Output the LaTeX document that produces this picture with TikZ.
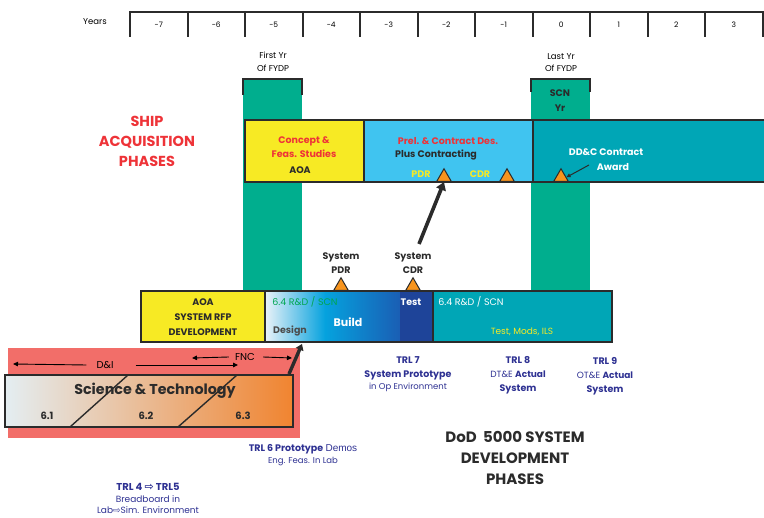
\documentclass[tikz,border=0pt]{standalone}
\usepackage{fontspec}
\setmainfont{Poppins}
\newfontfamily\symfont{DejaVu Sans}
\usetikzlibrary{positioning,arrows.meta,shapes.geometric}
\definecolor{fydpgreen}{HTML}{00AE8E}
\definecolor{phaseteal}{HTML}{00A6B6}
\definecolor{phaseblue}{HTML}{40C4F0}
\definecolor{phaseyellow}{HTML}{F7EA24}
\definecolor{phasered}{HTML}{EE3338}
\definecolor{milestone}{HTML}{F7941D}
\definecolor{stred}{HTML}{F26E69}
\definecolor{trlblue}{HTML}{2E3192}
\definecolor{rdgreen}{HTML}{00A651}
\definecolor{frame}{HTML}{2B2B2B}
\definecolor{buildlight}{HTML}{EAF2F8}
\definecolor{buildmid}{HTML}{05A2DE}
\definecolor{builddark}{HTML}{1A5EB4}
\definecolor{testnavy}{HTML}{1E4499}
\definecolor{stlight}{HTML}{E4EEF2}
\definecolor{stmid}{HTML}{EFBA92}
\definecolor{storange}{HTML}{F08430}
\begin{document}
\begin{tikzpicture}[x=1pt,y=-1pt,
    yrlab/.style={font=\fontsize{8.5}{9}\selectfont, inner sep=0pt},
    cell/.style={draw=frame, line width=1.6pt, inner sep=0pt, outer sep=0pt},
    txt/.style={font=\fontsize{9.5}{10}\selectfont\bfseries, inner sep=0pt, align=center},
    plain/.style={font=\fontsize{9.5}{10}\selectfont, inner sep=0pt, align=center},
    trl/.style={font=\fontsize{8.5}{9}\selectfont, text=trlblue, inner sep=0pt, align=center},
    mile/.style={regular polygon, regular polygon sides=3, draw=frame, line width=1pt,
                 fill=milestone, minimum size=17pt, inner sep=0pt, anchor=south},
    bigarrow/.style={-{Triangle[length=8pt,width=10pt]}, line width=3.6pt, frame},
    span/.style={-{Triangle[length=5pt,width=4.5pt]}, line width=0.9pt, black},
  ]
  \useasboundingbox (0,0) rectangle (764,518);

  % year scale
  \node[yrlab] (years) at (95,22) {Years};
  \draw[frame, line width=2pt] (130,12) -- (762.5,12);
  \foreach \yr [count=\i from 0] in {-7,-6,-5,-4,-3,-2,-1,0,1,2,3} {
    \draw[frame, line width=2pt] ({130+57.5*\i},11) -- ++(0,26);
    \node[yrlab, font=\fontsize{7.5}{8}\selectfont] (yr\i) at ({158.75+57.5*\i},25) {\yr};
  }
  \draw[frame, line width=2pt] (762.5,11) -- ++(0,26);

  % FYDP columns
  \fill[fydpgreen] (243,80) rectangle (302,291);
  \fill[fydpgreen] (531,80) rectangle (590,291);
  \draw[frame, line width=1.2pt] (243,95) -- (243,79) -- (302,79) -- (302,95);
  \draw[frame, line width=1.2pt] (531,92) -- (531,79) -- (590,79) -- (590,92);
  \node[yrlab, align=center] (first) at (273,62) {First Yr\\[4pt]Of FYDP};
  \node[yrlab, align=center] (last) at (561,63) {Last Yr\\[3pt]Of FYDP};
  \node[txt, text=frame] (scn) at (560,101) {SCN\\[5pt]Yr};

  % ship acquisition phases
  \node[txt, text=phasered, font=\fontsize{14.5}{20}\selectfont\bfseries] (ship) at (147,141) {SHIP\\ACQUISITION\\PHASES};
  \node[cell, fill=phaseyellow, minimum width=119pt, minimum height=62pt, anchor=north west] (cfs) at (245,120) {};
  \node[cell, fill=phaseblue, minimum width=169pt, minimum height=62pt, right=0pt of cfs] (pcd) {};
  \node[cell, fill=phaseteal, minimum width=232pt, minimum height=62pt, right=0pt of pcd] (ddc) {};
  \node[txt, text=phasered, align=center] (cfstxt) at (304,147) {Concept \&\\[3pt]Feas. Studies};
  \node[txt, text=frame] (aoa) at (300,170) {AOA};
  \node[txt, text=phasered] (pcdtxt) at (448,141) {Prel. \& Contract Des.};
  \node[txt, text=frame] (plus) at (436,155) {Plus Contracting};
  \node[txt, text=phaseyellow] (pdrtxt) at (421,174) {PDR};
  \node[txt, text=phaseyellow] (cdrtxt) at (480,174) {CDR};
  \node[mile] (pdr) at (444,182) {};
  \node[mile] (cdr) at (507,182) {};
  \node[mile] (award) at (561,182) {};
  \node[txt, text=white, align=center] (ddctxt) at (606,152) {DD\&C Contract};
  \node[txt, text=white] (awardtxt) at (613,167) {Award};
  \draw[-{Triangle[length=4pt,width=4pt]}, line width=1pt, frame] (589,165) -- (award.east);

  \coordinate (tail) at (419,244);
  \draw[bigarrow] (tail) -- (pdr.south);

  % DoD 5000 phases
  \node[txt, text=frame] (spdr) at (341,263) {System\\[4pt]PDR};
  \node[txt, text=frame] (scdr) at (413,263) {System\\[4pt]CDR};
  \node[mile] (sysp) at (341,291) {};
  \node[mile] (sysc) at (413,291) {};

  \node[cell, fill=phaseyellow, minimum width=124pt, minimum height=51pt, anchor=north west] (rfp) at (141,291) {};
  \shade[left color=buildlight, right color=buildmid] (265,291) rectangle (325,342);
  \shade[left color=buildmid, right color=builddark] (325,291) rectangle (400,342);
  \fill[testnavy] (400,291) rectangle (433,342);
  \node[cell, minimum width=168pt, minimum height=51pt, right=0pt of rfp] (dbt) {};
  \node[cell, fill=phaseteal, minimum width=179pt, minimum height=51pt, right=0pt of dbt] (tmi) {};
  \node[txt, text=frame, font=\fontsize{9.5}{10}\selectfont\bfseries] (rfptxt) at (203,317) {AOA\\[5pt]SYSTEM RFP\\[5pt]DEVELOPMENT};
  \node[plain, text=rdgreen] (rd1) at (305,302) {6.4 R\&D / SCN};
  \node[txt, text=white] (test) at (411,302) {Test};
  \node[txt, text=white, font=\fontsize{11}{12}\selectfont\bfseries] (build) at (348,322) {Build};
  \node[txt, text=frame!85] (design) at (290,331) {Design};
  \node[plain, text=white] (rd2) at (471,302) {6.4 R\&D / SCN};
  \node[plain, text=phaseyellow, font=\fontsize{9}{10}\selectfont] (mods) at (522,332) {Test, Mods, ILS};

  % science and technology
  \fill[stred] (8,348) rectangle (300,438);
  \shade[left color=stlight, middle color=stmid, right color=storange] (5,375) rectangle (293,427);
  \node[cell, minimum width=288pt, minimum height=52pt, anchor=north west] (snt) at (5,375) {};
  \draw[frame, line width=1.4pt] (70,427) -- (128,375);
  \draw[frame, line width=1.4pt] (178,427) -- (237,375);
  \node[txt, text=frame, font=\fontsize{14.3}{15}\selectfont\bfseries] (snttxt) at (155,391) {Science \& Technology};
  \node[txt, text=frame, font=\fontsize{10}{11}\selectfont\bfseries] (s61) at (47,416) {6.1};
  \node[txt, text=frame, font=\fontsize{10}{11}\selectfont\bfseries] (s62) at (146,416) {6.2};
  \node[txt, text=frame, font=\fontsize{10}{11}\selectfont\bfseries] (s63) at (243,416) {6.3};

  \node[plain, font=\fontsize{10}{11}\selectfont] (di) at (105,365) {D\&I};
  \coordinate (dil) at (13,364);
  \coordinate (dir) at (238,365);
  \draw[span] (di.west) ++(-10,0) -- (dil);
  \draw[span] (di.east) ++(22,0) -- (dir);
  \node[plain, font=\fontsize{10}{11}\selectfont] (fnc) at (245,357) {FNC};
  \coordinate (fncl) at (192,358);
  \coordinate (fncr) at (292,358);
  \draw[span] (fnc.west) ++(-6,0) -- (fncl);
  \draw[span] (fnc.east) ++(8,0) -- (fncr);

  \coordinate (sttail) at (289,374);
  \coordinate (sthead) at (302,344);
  \draw[-{Triangle[length=6pt,width=8pt]}, line width=3.4pt, frame] (sttail) -- (sthead);

  % technology readiness levels
  \node[trl] (trl7) at (408,374) {{\bfseries\fontsize{9.5}{10}\selectfont TRL 7}\\[5pt]{\bfseries\fontsize{9.5}{10}\selectfont System Prototype}\\[3pt]in Op Environment};
  \node[trl] (trl8) at (518,375) {{\bfseries\fontsize{9.5}{10}\selectfont TRL 8}\\[5pt]{\fontsize{9}{10}\selectfont DT\&E \bfseries Actual}\\[5pt]{\bfseries\fontsize{9.5}{10}\selectfont System}};
  \node[trl] (trl9) at (605,376) {{\bfseries\fontsize{9.5}{10}\selectfont TRL 9}\\[5pt]{\fontsize{9}{10}\selectfont OT\&E \bfseries Actual}\\[5pt]{\bfseries\fontsize{9.5}{10}\selectfont System}};
  \node[trl] (trl6) at (303,455) {{\bfseries\fontsize{9.5}{10}\selectfont TRL 6 Prototype} {\fontspec{Liberation Sans}\fontsize{10}{10}\selectfont Demos}\\[3pt]Eng. Feas. In Lab};
  \node[trl, anchor=north, font=\fontsize{9}{10}\selectfont] (trl4) at (148,483) {{\bfseries\fontsize{10}{10}\selectfont TRL 4 {\symfont\fontsize{11}{10}\selectfont ⇨} TRL5}\\[2pt]Breadboard in\\[1pt]Lab{\symfont ⇨}Sim. Environment};

  \node[txt, text=frame, font=\fontsize{15}{21}\selectfont\bfseries] (dod) at (515,458) {DoD\ \ 5000 SYSTEM\\DEVELOPMENT\\PHASES};
\end{tikzpicture}
\end{document}
